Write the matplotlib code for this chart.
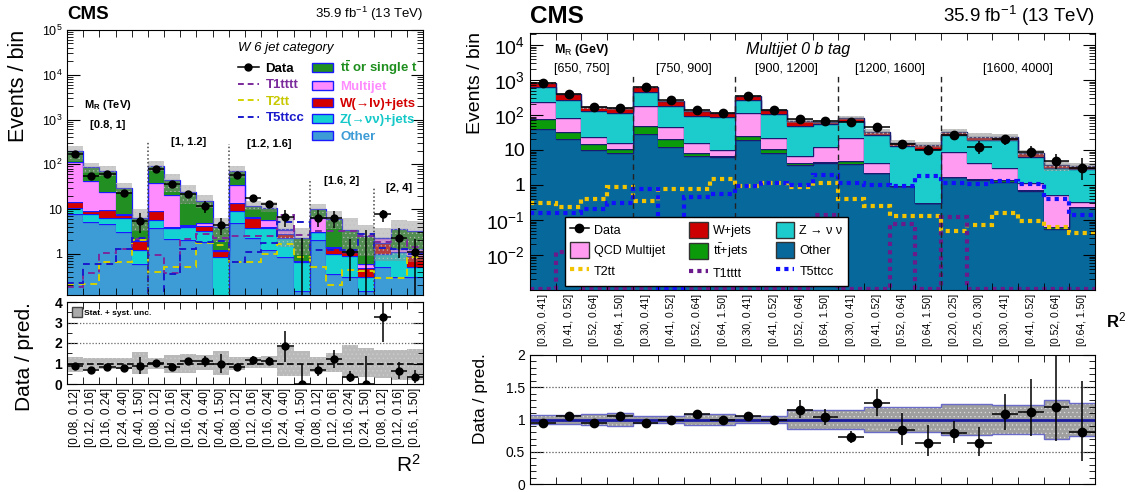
import numpy as np
import matplotlib
matplotlib.use('Agg')
import matplotlib.pyplot as plt
from matplotlib.patches import Patch
from matplotlib.lines import Line2D
from matplotlib.ticker import FixedLocator, LogLocator, MultipleLocator, NullFormatter

plt.rcParams['font.family'] = ['Liberation Sans', 'DejaVu Sans']
plt.rcParams['mathtext.fontset'] = 'custom'
plt.rcParams['mathtext.rm'] = 'Liberation Sans'
plt.rcParams['mathtext.it'] = 'Liberation Sans:italic'
plt.rcParams['mathtext.bf'] = 'Liberation Sans:bold'
plt.rcParams['hatch.linewidth'] = 0.4

# ---------------- left: W 6 jet category ----------------
l_mr = ['[0.8, 1]', '[1, 1.2]', '[1.2, 1.6]', '[1.6, 2]', '[2, 4]']
l_mr_nbins = [5, 5, 5, 4, 3]
l_r2 = (['[0.08, 0.12]', '[0.12, 0.16]', '[0.16, 0.24]', '[0.24, 0.40]', '[0.40, 1.50]'] * 3
        + ['[0.08, 0.12]', '[0.12, 0.16]', '[0.16, 0.24]', '[0.24, 1.50]']
        + ['[0.08, 0.12]', '[0.12, 0.16]', '[0.16, 1.50]'])
l_other = [7.9, 5.1, 4.6, 3.1, 0.59, 3.7, 2.1, 2.0, 1.8, 0.05, 4.8, 2.3, 1.2, 0.86, 0.15, 2.0, 0.35, 0.30, 0.15, 0.51, 0.30, 0.30]
l_zjets = [2.8, 2.8, 1.6, 3.3, 0.61, 2.0, 1.6, 1.9, 1.4, 0.78, 4.2, 1.4, 2.5, 1.44, 0.52, 1.0, 0.65, 0.6, 0.15, 0.48, 0.77, 0.2]
l_wjets = [3.6, 1.1, 3.3, 1.0, 0.75, 3.3, 0.3, 0.3, 1.0, 0.34, 4.8, 2.7, 0.2, 0.5, 0.03, 0.1, 0.38, 0.17, 0.18, 0.71, 0.03, 0.4]
l_multijet = [95.7, 33, 14.5, 0.5, 0.05, 29, 17, 0.2, 0.8, 0.03, 21.2, 0.2, 1.7, 0.6, 0.0, 3.1, 0.07, 0.03, 0.11, 0.5, 0.17, 0.37]
l_ttbar = [85, 43, 48, 22.1, 4.4, 55, 23, 19.6, 10, 2.8, 37, 5.1, 5.1, 0.2, 1.6, 3.8, 4.45, 2.3, 1.91, 0.1, 2.23, 1.93]
l_data = [170, 54, 61, 23, 5.4, 80, 36, 22, 11.7, 4.4, 59, 17.8, 13, 6.6, 0, 6.4, 6.4, 1.1, 0, 7.9, 2.2, 1.07]
l_t1tttt = [0.18, 0.38, 1.05, 1.3, 2.1, 0.95, 0.37, 2.1, 2.8, 2.2, 2.5, 2.5, 2.5, 7.4, 2.6, 3.2, 3.3, 3.3, 2.5, 1.8, 2.0, 1.4]
l_t2tt = [0.21, 0.21, 0.67, 0.67, 2.0, 0.4, 0.5, 0.5, 1.7, 1.6, 0.64, 0.64, 1.0, 1.65, 0.83, 0.51, 0.2, 0.43, 0.42, 0.29, 0.29, 0.83]
l_t5ttcc = [0.22, 0.59, 0.6, 1.3, 2.3, 0.1, 0.35, 1.27, 1.8, 1.9, 0.64, 1.07, 1.7, 5.2, 5.2, 1.23, 1.23, 1.2, 2.8, 1.38, 1.3, 0.99]
l_ratio = [0.9, 0.66, 0.84, 0.79, 0.9, 1.04, 0.84, 1.14, 1.1, 1.0, 0.84, 1.17, 1.12, 1.84, 0, 0.66, 1.23, 0.35, 0, 3.26, 0.63, 0.35]
l_ratio_elo = [0.1, 0.08, 0.08, 0.12, 0.4, 0.08, 0.1, 0.15, 0.25, 0.45, 0.06, 0.2, 0.2, 0.75, 0, 0.25, 0.45, 0.25, 0, 1.2, 0.4, 0.3]
l_ratio_ehi = [0.1, 0.08, 0.08, 0.12, 0.4, 0.08, 0.1, 0.15, 0.25, 0.45, 0.06, 0.2, 0.2, 0.75, 1.0, 0.3, 0.45, 0.3, 1.37, 0.74, 0.45, 0.35]
l_unc_lo = [0.6, 0.75, 0.75, 0.75, 0.5, 0.75, 0.55, 0.55, 0.7, 0.45, 0.7, 0.8, 0.8, 0.4, 0.4, 0.6, 0.6, 0.3, 0.35, 0.3, 0.2, 0.2]
l_unc_hi = [1.3, 1.25, 1.25, 1.25, 1.55, 1.25, 1.4, 1.45, 1.4, 1.6, 1.3, 1.3, 1.35, 1.8, 1.6, 1.3, 1.5, 1.9, 1.75, 1.65, 1.65, 1.7]

# ---------------- right: Multijet 0 b tag ----------------
r_mr = ['[650, 750]', '[750, 900]', '[900, 1200]', '[1200, 1600]', '[1600, 4000]']
r_mr_nbins = [4, 4, 4, 4, 6]
r_r2 = (['[0.30, 0.41]', '[0.41, 0.52]', '[0.52, 0.64]', '[0.64, 1.50]'] * 4
        + ['[0.20, 0.25]', '[0.25, 0.30]', '[0.30, 0.41]', '[0.41, 0.52]', '[0.52, 0.64]', '[0.64, 1.50]'])
r_other = [40, 20.6, 10, 8, 28, 12.5, 6.7, 6.2, 19.3, 8, 3.7, 4.3, 4, 2.2, 0.93, 0.3, 1.7, 1.4, 1.25, 0.69, 0.054, 0.23]
r_ttbar = [37, 12.4, 4.8, 2.7, 19, 7.5, 1.7, 0.5, 5.7, 2.5, 0.5, 0.3, 0.9, 0.05, 0.01, 0.0, 0.02, 0.1, 0.1, 0.01, 0.011, 0.0]
r_qcd = [153, 47, 8.2, 4.8, 133, 25, 7.6, 3.5, 87, 11.1, 2.7, 7.4, 16.7, 1.95, 0.01, 0.0, 7.2, 2.7, 1.65, 0.47, 0.455, 0.1]
r_zjets = [390, 190, 110, 100.5, 285, 135, 77, 78.8, 158, 85.4, 42.1, 43, 45.4, 22.8, 12.05, 10.4, 18.1, 14.8, 16, 5.23, 2.48, 2.47]
r_wjets = [210, 130, 32, 39, 155, 75, 40, 27, 80, 31, 18, 10, 17, 6, 3, 3.1, 6, 5, 5, 1.6, 0.7, 0.7]
r_data = [800, 400, 170, 160, 620, 270, 140, 112, 360, 140, 77, 67, 62, 45, 14.8, 10, 27, 12.4, 20, 8.9, 4.9, 3.0]
r_t2tt = [0.30, 0.24, 0.39, 0.9, 0.35, 0.75, 0.75, 1.45, 0.95, 1.17, 0.9, 1.17, 0.39, 0.25, 0.13, 0.13, 0.05, 0.072, 0.155, 0.094, 0.065, 0.042]
r_t1tttt = [0.0011, 0.0125, 0.0011, 0.0011, 0.0011, 0.0011, 0.0011, 0.0011, 0.0011, 0.0011, 0.0011, 0.14, 0.0011, 0.0011, 0.075, 0.0011, 0.125, 0.0011, 0.0011, 0.0011, 0.0011, 0.0011]
r_t5ttcc = [0.155, 0.155, 0.2, 0.3, 0.75, 0.0011, 0.45, 0.55, 0.93, 1.17, 1.0, 1.93, 1.17, 1.0, 0.93, 1.8, 1.17, 1.05, 1.3, 1.1, 0.39, 0.14]
r_ratio = [0.95, 1.05, 0.95, 1.05, 0.95, 1.0, 1.09, 1.0, 1.05, 0.985, 1.15, 1.04, 0.73, 1.25, 0.83, 0.64, 0.79, 0.64, 1.09, 1.11, 1.2, 0.81]
r_ratio_elo = [0.03, 0.03, 0.04, 0.06, 0.03, 0.04, 0.06, 0.06, 0.03, 0.06, 0.13, 0.13, 0.09, 0.2, 0.23, 0.2, 0.16, 0.2, 0.25, 0.36, 0.54, 0.45]
r_ratio_ehi = [0.03, 0.03, 0.04, 0.06, 0.03, 0.04, 0.06, 0.06, 0.03, 0.06, 0.15, 0.13, 0.09, 0.22, 0.27, 0.28, 0.18, 0.25, 0.3, 0.52, 0.8, 0.79]
r_unc = [0.07, 0.07, 0.09, 0.1, 0.05, 0.05, 0.08, 0.08, 0.06, 0.06, 0.14, 0.14, 0.15, 0.19, 0.2, 0.2, 0.24, 0.24, 0.23, 0.23, 0.3, 0.25]

W, H = 1131, 492
fig = plt.figure(figsize=(W / 100, H / 100), dpi=100)


def px_axes(x0, y0, x1, y1):
    return fig.add_axes([x0 / W, 1 - y1 / H, (x1 - x0) / W, (y1 - y0) / H])


def draw_stack(ax, comps, colors, edgecolor, floor, lw):
    comps = np.array(comps, dtype=float)
    n = comps.shape[1]
    edges = np.arange(n + 1)
    tops = np.cumsum(comps, axis=0)
    base = np.full(n, floor)
    for top, col in zip(tops, colors):
        ax.stairs(top, edges, baseline=base, fill=True, color=col, lw=0)
        ax.stairs(top, edges, baseline=None, color=edgecolor, lw=lw)
        base = top
    return tops[-1]


def setup_xbins(ax, n, labels=None, fs=8):
    ax.set_xlim(0, n)
    ax.set_xticks(np.arange(n) + 0.5)
    if labels is None:
        ax.set_xticklabels([])
    else:
        ax.set_xticklabels(labels, rotation=90, fontsize=fs)
    ax.set_xticks(np.arange(n + 1), minor=True)
    ax.tick_params(axis='x', which='major', length=0, pad=3)
    ax.tick_params(axis='x', which='minor', length=5, direction='in', top=True, bottom=True)


def setup_logy(ax, lo, hi, exps, fs):
    ax.set_yscale('log')
    ax.set_ylim(lo, hi)
    labs = []
    for e in exps:
        labs.append('1' if e == 0 else ('10' if e == 1 else r'$10^{%d}$' % e))
    ax.yaxis.set_major_locator(FixedLocator([10.0 ** e for e in exps]))
    ax.set_yticklabels(labs)
    ax.yaxis.set_minor_locator(LogLocator(base=10, subs=np.arange(2, 10), numticks=20))
    ax.yaxis.set_minor_formatter(NullFormatter())
    ax.tick_params(axis='y', which='major', length=9, direction='in', right=True, labelsize=fs)
    ax.tick_params(axis='y', which='minor', length=4.5, direction='in', right=True)


# ================= LEFT MAIN =================
n = len(l_r2)
edges = np.arange(n + 1)
cent = np.arange(n) + 0.5
axL = px_axes(67, 30, 423, 295)
l_colors = ['#3d9bd6', '#14d2d2', '#d40000', '#ff8cff', '#218f21']
l_tot = draw_stack(axL, [l_other, l_zjets, l_wjets, l_multijet, l_ttbar], l_colors, '#1a1aff', 1e-6, 0.9)
axL.fill_between(edges, np.r_[l_tot * l_unc_lo, l_tot[-1] * l_unc_lo[-1]],
                 np.r_[l_tot * l_unc_hi, l_tot[-1] * l_unc_hi[-1]], step='post',
                 facecolor=(0.55, 0.55, 0.55, 0.45), edgecolor=(0.75, 0.75, 0.75, 0.8), hatch='....', lw=0)
axL.stairs(l_t1tttt, edges, baseline=None, color='#7b2a9c', lw=1.4, ls=(0, (3.5, 2.5)))
axL.stairs(l_t2tt, edges, baseline=None, color='#d2d200', lw=1.4, ls=(0, (3.5, 2.5)))
axL.stairs(l_t5ttcc, edges, baseline=None, color='#1a1acc', lw=1.4, ls=(0, (3.5, 2.5)))

l_data_a = np.array(l_data, float)
l_elo = np.array(l_ratio_elo) * l_tot
l_ehi = np.array(l_ratio_ehi) * l_tot
pos = l_data_a > 0
axL.errorbar(cent[pos], l_data_a[pos], yerr=[np.minimum(l_elo[pos], l_data_a[pos] * 0.999), l_ehi[pos]],
             xerr=0.5, fmt='o', color='black', ms=5, elinewidth=1.1, capsize=0)
axL.vlines(cent[~pos], 1e-3, l_ehi[~pos], color='black', lw=1.1)

setup_xbins(axL, n)
setup_logy(axL, 0.12, 1e5, [0, 1, 2, 3, 4, 5], 9)

# group labels and separators
l_lab_y = [735, 310, 277, 42, 29]
start = 0
for i, (lab, nb) in enumerate(zip(l_mr, l_mr_nbins)):
    axL.text(start + nb / 2, l_lab_y[i], lab, ha='center', va='center', fontsize=8, fontweight='bold')
    if i > 0:
        axL.plot([start, start], [0.01, l_lab_y[i] * 1.05], color='#444444', ls=(0, (1, 1.5)), lw=1.1)
    start += nb
axL.text(2.5, 2150, r'$\mathbf{M_R}$ (TeV)', ha='center', va='center', fontsize=8, fontweight='bold')

hL = [Line2D([], [], marker='o', color='black', ls='-', ms=5, lw=1.1),
      Line2D([], [], color='#7b2a9c', lw=1.4, ls=(0, (3, 2))),
      Line2D([], [], color='#d2d200', lw=1.4, ls=(0, (3, 2))),
      Line2D([], [], color='#1a1acc', lw=1.4, ls=(0, (3, 2))),
      Line2D([], [], color='none'),
      Patch(facecolor=l_colors[4], edgecolor='#1a1aff'),
      Patch(facecolor=l_colors[3], edgecolor='#1a1aff'),
      Patch(facecolor=l_colors[2], edgecolor='#1a1aff'),
      Patch(facecolor=l_colors[1], edgecolor='#1a1aff'),
      Patch(facecolor=l_colors[0], edgecolor='#1a1aff')]
labL = ['Data', 'T1tttt', 'T2tt', 'T5ttcc', '',
        r'$\mathbf{t\bar{t}}$ or single t', 'Multijet', 'W(→lν)+jets', 'Z(→νν)+jets', 'Other']
colL = ['black', '#7b2a9c', '#c8c800', '#1a1acc', 'black',
        '#1e8f1e', '#ff8cff', '#d40000', '#14c8c8', '#3d9bd6']
legL = axL.legend(hL, labL, ncol=2, loc='upper left', bbox_to_anchor=(0.465, 0.975), frameon=False,
                  prop={'weight': 'bold', 'size': 9.5}, labelcolor=colL, handlelength=1.6,
                  handletextpad=0.5, columnspacing=0.6, labelspacing=0.32,
                  title='W 6 jet category', title_fontproperties={'style': 'italic', 'size': 9.5},
                  alignment='left', borderaxespad=0)

axL.text(0.0, 1.025, 'CMS', transform=axL.transAxes, fontsize=13.5, fontweight='bold', ha='left', va='bottom')
axL.text(1.0, 1.025, r'35.9 fb$^{-1}$ (13 TeV)', transform=axL.transAxes, fontsize=9.5, ha='right', va='bottom')
fig.text(19 / W, 1 - 30 / H, 'Events / bin', rotation=90, ha='center', va='top', fontsize=15.5)

# ================= LEFT RATIO =================
axLr = px_axes(67, 302, 423, 384)
axLr.fill_between(edges, np.r_[l_unc_lo, l_unc_lo[-1]], np.r_[l_unc_hi, l_unc_hi[-1]], step='post',
                  facecolor='#b9b9b9', edgecolor='#cfcfcf', hatch='....', lw=0)
axLr.axhline(1, color='black', ls=(0, (4, 2)), lw=1.2)
for yv in [2, 3]:
    axLr.axhline(yv, color='#666666', ls=(0, (1, 1.5)), lw=0.9)
axLr.errorbar(cent, l_ratio, yerr=[l_ratio_elo, l_ratio_ehi], xerr=0.5, fmt='o', color='black',
              ms=5, elinewidth=1.1, capsize=0, clip_on=True)
setup_xbins(axLr, n, l_r2, fs=8.5)
axLr.set_ylim(0, 4)
axLr.set_yticks([0, 1, 2, 3, 4])
axLr.yaxis.set_minor_locator(MultipleLocator(0.5))
axLr.tick_params(axis='y', which='major', length=7, direction='in', right=True, labelsize=10)
axLr.tick_params(axis='y', which='minor', length=3.5, direction='in', right=True)
for t in axLr.get_yticklabels():
    t.set_fontweight('bold')
axLr.legend([Patch(facecolor='#aaaaaa', edgecolor='#444444')], ['Stat. + syst. unc.'], loc='upper left',
            frameon=False, prop={'weight': 'bold', 'size': 6}, handlelength=1.2, handleheight=1.4,
            borderaxespad=0.2, handletextpad=0.3)
axLr.text(0.96, -0.98, r'R$^2$', transform=axLr.transAxes, fontsize=15, ha='center', va='center')
fig.text(24 / W, 1 - 302 / H, 'Data / pred.', rotation=90, ha='center', va='top', fontsize=15)

# ================= RIGHT MAIN =================
n = len(r_r2)
edges = np.arange(n + 1)
cent = np.arange(n) + 0.5
axR = px_axes(530, 33, 1095, 290)
r_colors = ['#07689c', '#0a9a0a', '#ff9cf2', '#1ccccc', '#cc0000']
r_tot = draw_stack(axR, [r_other, r_ttbar, r_qcd, r_zjets, r_wjets], r_colors, '#1a1a70', 1e-6, 1.0)
r_unc_a = np.array(r_unc)
axR.fill_between(edges, np.r_[r_tot * (1 - r_unc_a), r_tot[-1] * (1 - r_unc_a[-1])],
                 np.r_[r_tot * (1 + r_unc_a), r_tot[-1] * (1 + r_unc_a[-1])], step='post',
                 facecolor=(0.5, 0.5, 0.5, 0.5), edgecolor=(0.8, 0.8, 0.8, 0.8), hatch='....', lw=0)
dots = (0, (1, 1))
axR.stairs(r_t2tt, edges, baseline=None, color='#f2c300', lw=3, ls=dots)
axR.stairs(r_t1tttt, edges, baseline=None, color='#6a1a8a', lw=3, ls=dots)
axR.stairs(r_t5ttcc, edges, baseline=None, color='#1010ff', lw=3, ls=dots)

r_data_a = np.array(r_data, float)
r_elo = np.array(r_ratio_elo) * r_tot
r_ehi = np.array(r_ratio_ehi) * r_tot
axR.errorbar(cent, r_data_a, yerr=[np.minimum(r_elo, r_data_a * 0.999), r_ehi], xerr=0.5, fmt='o',
             color='black', ms=6, elinewidth=1.1, capsize=0)

setup_xbins(axR, n, r_r2, fs=7.5)
setup_logy(axR, 1e-3, 2.2e4, [-2, -1, 0, 1, 2, 3, 4], 14)

start = 0
for i, (lab, nb) in enumerate(zip(r_mr, r_mr_nbins)):
    axR.text(start + nb / 2, 2050, lab, ha='center', va='center', fontsize=9)
    if i > 0:
        axR.plot([start, start], [1e-4, 1300], color='#222222', ls=(0, (4, 3)), lw=1.0)
    start += nb
axR.text(2.0, 7200, r'M$_\mathrm{R}$ (GeV)', ha='center', va='center', fontsize=9, fontweight='bold')
axR.text(0.475, 0.935, 'Multijet 0 b tag', transform=axR.transAxes, ha='center', va='center',
         fontsize=11.5, style='italic')

hR = [Line2D([], [], marker='o', color='black', ls='-', ms=6, lw=1.1),
      Patch(facecolor=r_colors[2], edgecolor='#333333'),
      Line2D([], [], color='#f2c300', lw=3, ls=dots),
      Patch(facecolor=r_colors[4], edgecolor='#333333'),
      Patch(facecolor=r_colors[1], edgecolor='#333333'),
      Line2D([], [], color='#6a1a8a', lw=3, ls=dots),
      Patch(facecolor=r_colors[3], edgecolor='#333333'),
      Patch(facecolor=r_colors[0], edgecolor='#333333'),
      Line2D([], [], color='#1010ff', lw=3, ls=dots)]
labR = ['Data', 'QCD Multijet', 'T2tt', 'W+jets', r't$\bar{\mathrm{t}}$+jets', 'T1tttt',
        'Z → ν ν', 'Other', 'T5ttcc']
legR = axR.legend(hR, labR, ncol=3, loc='lower left', bbox_to_anchor=(0.062, 0.016, 0.5, 0.268),
                  mode='expand', borderaxespad=0, fancybox=False, framealpha=1, edgecolor='black',
                  fontsize=9, handlelength=1.5, handleheight=1.6, labelspacing=0.35, handletextpad=0.4)
legR.get_frame().set_linewidth(1.0)

axR.text(0.0, 1.02, 'CMS', transform=axR.transAxes, fontsize=17.5, fontweight='bold', ha='left', va='bottom')
axR.text(1.0, 1.02, r'35.9 fb$^{-1}$ (13 TeV)', transform=axR.transAxes, fontsize=13.5, ha='right', va='bottom')
axR.text(1.037, -0.117, r'R$^2$', transform=axR.transAxes, fontsize=12, fontweight='bold', ha='center', va='center')
fig.text(475 / W, 1 - 32 / H, 'Events / bin', rotation=90, ha='center', va='top', fontsize=14)

# ================= RIGHT RATIO =================
axRr = px_axes(530, 355, 1095, 484)
axRr.fill_between(edges, np.r_[1 - r_unc_a, 1 - r_unc_a[-1]], np.r_[1 + r_unc_a, 1 + r_unc_a[-1]], step='post',
                  facecolor='#9f9f9f', edgecolor='#dddddd', hatch='....', lw=0)
axRr.stairs(1 + r_unc_a, edges, baseline=None, color='#6a6ac8', lw=1.0)
axRr.stairs(1 - r_unc_a, edges, baseline=None, color='#6a6ac8', lw=1.0)
axRr.axhline(1, color='#1a1aa0', lw=2.0)
for yv in [0.5, 1.5]:
    axRr.axhline(yv, color='#555555', ls=(0, (1, 1.5)), lw=0.9)
axRr.errorbar(cent, r_ratio, yerr=[r_ratio_elo, r_ratio_ehi], xerr=0.5, fmt='o', color='black',
              ms=6, elinewidth=1.1, capsize=0)
setup_xbins(axRr, n)
axRr.set_ylim(0, 2)
axRr.set_yticks([0, 0.5, 1, 1.5, 2])
axRr.set_yticklabels(['0', '0.5', '1', '1.5', '2'])
axRr.yaxis.set_minor_locator(MultipleLocator(0.1))
axRr.tick_params(axis='y', which='major', length=9, direction='in', right=True, labelsize=10)
axRr.tick_params(axis='y', which='minor', length=4.5, direction='in', right=True)
fig.text(480 / W, 1 - 353 / H, 'Data / pred.', rotation=90, ha='center', va='top', fontsize=12.5)

fig.savefig('out.png', dpi=100)
